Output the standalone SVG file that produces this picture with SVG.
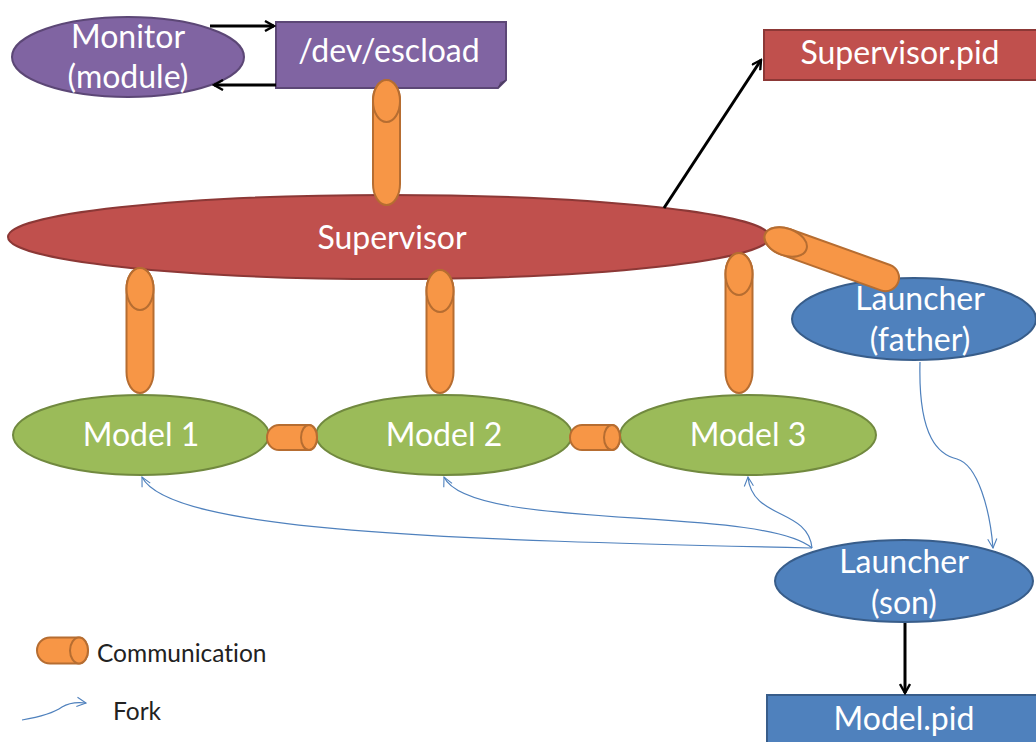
<svg xmlns="http://www.w3.org/2000/svg" width="1036" height="742" viewBox="0 0 1036 742">
  <defs>
    <marker id="arrowBlack" viewBox="0 0 12 12" refX="10" refY="6" markerWidth="12" markerHeight="12" markerUnits="userSpaceOnUse" orient="auto">
      <path d="M1,1 L10,6 L1,11" fill="none" stroke="#000" stroke-width="2.4" stroke-linejoin="miter"/>
    </marker>
    <marker id="arrowFork" viewBox="0 0 12 12" refX="11" refY="6" markerWidth="11" markerHeight="11" markerUnits="userSpaceOnUse" orient="auto">
      <path d="M1,1 L11,6 L1,11" fill="none" stroke="#4f81bd" stroke-width="1.2"/>
    </marker>
  </defs>
  <style>
    .lbl { font-family: Lato, "Open Sans", "Liberation Sans", sans-serif; font-size: 32px; fill: #ffffff; text-anchor: middle; dominant-baseline: central; font-variant-ligatures: none; }
    .legend { font-family: Lato, "Open Sans", "Liberation Sans", sans-serif; font-size: 24.5px; fill: #222; dominant-baseline: central; font-variant-ligatures: none; }
    .purple { fill: #8064a2; stroke: #5c4776; stroke-width: 2; }
    .red { fill: #c0504d; stroke: #8c3836; stroke-width: 2; }
    .green { fill: #9bbb59; stroke: #71893f; stroke-width: 2; }
    .blue { fill: #4f81bd; stroke: #385d8a; stroke-width: 2; }
    .fold { fill: #000; fill-opacity: 0.25; }
    .cyl { fill: #f79646; stroke: #b66d31; stroke-width: 2; }
    .black { fill: none; stroke: #000; stroke-width: 3; marker-end: url(#arrowBlack); }
    .fork { fill: none; stroke: #4f81bd; stroke-width: 1.2; marker-end: url(#arrowFork); }
  </style>

  <rect width="1036" height="742" fill="#ffffff"/>

  <!-- nodes -->
  <g id="monitor">
    <ellipse class="purple" cx="128" cy="57" rx="116" ry="40"/>
    <text class="lbl" x="128" y="35">Monitor</text>
    <text class="lbl" x="128" y="75">(module)</text>
  </g>

  <g id="escload">
    <path class="purple" d="M276,22 L506,22 L506,80 L498,88 L276,88 Z"/>
    <path class="fold" d="M506,80 L498,88 L500,82 Z"/>
    <text class="lbl" x="389" y="49">/dev/escload</text>
  </g>

  <g id="supervisor-pid">
    <path class="red" d="M764,30 L1040,30 L1040,80 L764,80 Z"/>
    <text class="lbl" x="900" y="51">Supervisor.pid</text>
  </g>

  <g id="supervisor">
    <ellipse class="red" cx="389" cy="237" rx="381" ry="42"/>
    <text class="lbl" x="392" y="236">Supervisor</text>
  </g>

  <g id="launcher-father">
    <ellipse class="blue" cx="914" cy="319" rx="122" ry="41"/>
    <text class="lbl" x="920" y="297">Launcher</text>
    <text class="lbl" x="920" y="338">(father)</text>
  </g>

  <g id="model1">
    <ellipse class="green" cx="141" cy="435" rx="128" ry="40"/>
    <text class="lbl" x="141" y="433">Model 1</text>
  </g>

  <g id="model2">
    <ellipse class="green" cx="444" cy="435" rx="128" ry="40"/>
    <text class="lbl" x="444" y="433">Model 2</text>
  </g>

  <g id="model3">
    <ellipse class="green" cx="748" cy="435" rx="128" ry="40"/>
    <text class="lbl" x="748" y="433">Model 3</text>
  </g>

  <g id="launcher-son">
    <ellipse class="blue" cx="904" cy="581" rx="129" ry="41"/>
    <text class="lbl" x="904" y="560">Launcher</text>
    <text class="lbl" x="904" y="601">(son)</text>
  </g>

  <g id="model-pid">
    <rect class="blue" x="767" y="695" width="275" height="60"/>
    <text class="lbl" x="904" y="717">Model.pid</text>
  </g>

  <!-- connectors -->
  <g id="connectors">
    <!-- file access arrows -->
    <path class="black" d="M210,26 L274,26"/>
    <path class="black" d="M276,85 L214,85"/>
    <path class="black" d="M664,208 L761,60"/>
    <path class="black" d="M905,623 L905,693"/>

    <!-- fork arrows -->
    <path class="fork" d="M812,548 C450,540 170,532 142,477"/>
    <path class="fork" d="M812,548 C760,505 470,532 444,477"/>
    <path class="fork" d="M812,548 C808,508 752,520 748,477"/>
    <path class="fork" d="M920,362 C918,440 940,455 957,459 C978,465 990,510 993,548"/>

    <!-- communication channels: cylinder along +x, cap at the origin end -->
    <g transform="translate(386.5,80) rotate(90)">
      <path class="cyl" d="M21,-13.5 L104,-13.5 A21,13.5 0 0 1 104,13.5 L21,13.5 A21,13.5 0 0 1 21,-13.5 Z"/>
      <ellipse class="cyl" cx="21" cy="0" rx="21" ry="13.5"/>
    </g>
    <g transform="translate(140,268) rotate(90)">
      <path class="cyl" d="M21,-13.5 L104,-13.5 A21,13.5 0 0 1 104,13.5 L21,13.5 A21,13.5 0 0 1 21,-13.5 Z"/>
      <ellipse class="cyl" cx="21" cy="0" rx="21" ry="13.5"/>
    </g>
    <g transform="translate(440,270) rotate(90)">
      <path class="cyl" d="M21,-13.5 L102,-13.5 A21,13.5 0 0 1 102,13.5 L21,13.5 A21,13.5 0 0 1 21,-13.5 Z"/>
      <ellipse class="cyl" cx="21" cy="0" rx="21" ry="13.5"/>
    </g>
    <g transform="translate(739,253) rotate(90)">
      <path class="cyl" d="M21,-13.5 L119,-13.5 A21,13.5 0 0 1 119,13.5 L21,13.5 A21,13.5 0 0 1 21,-13.5 Z"/>
      <ellipse class="cyl" cx="21" cy="0" rx="21" ry="13.5"/>
    </g>
    <g transform="translate(765,234.5) rotate(19.7)">
      <path class="cyl" d="M22,-13.5 L128,-13.5 A13.5,13.5 0 0 1 128,13.5 L22,13.5 A22,13.5 0 0 1 22,-13.5 Z"/>
      <ellipse class="cyl" cx="22" cy="0" rx="22" ry="13.5"/>
    </g>
    <g transform="translate(317,437.5) rotate(180)">
      <path class="cyl" d="M8,-12.5 L38,-12.5 A12,12.5 0 0 1 38,12.5 L8,12.5 A8,12.5 0 0 1 8,-12.5 Z"/>
      <ellipse class="cyl" cx="8" cy="0" rx="8" ry="12.5"/>
    </g>
    <g transform="translate(620,437.5) rotate(180)">
      <path class="cyl" d="M8,-12.5 L38,-12.5 A12,12.5 0 0 1 38,12.5 L8,12.5 A8,12.5 0 0 1 8,-12.5 Z"/>
      <ellipse class="cyl" cx="8" cy="0" rx="8" ry="12.5"/>
    </g>
  </g>

  <!-- legend -->
  <g id="legend">
    <g transform="translate(88,650.5) rotate(180)">
      <path class="cyl" d="M9,-13 L38,-13 A13,13 0 0 1 38,13 L9,13 A9,13 0 0 1 9,-13 Z"/>
      <ellipse class="cyl" cx="9" cy="0" rx="9" ry="13"/>
    </g>
    <text class="legend" x="97" y="652">Communication</text>
    <path class="fork" d="M22,720 C45,716 55,712 62,707 C70,702 78,702 86,703"/>
    <text class="legend" x="113" y="710">Fork</text>
  </g>
</svg>
